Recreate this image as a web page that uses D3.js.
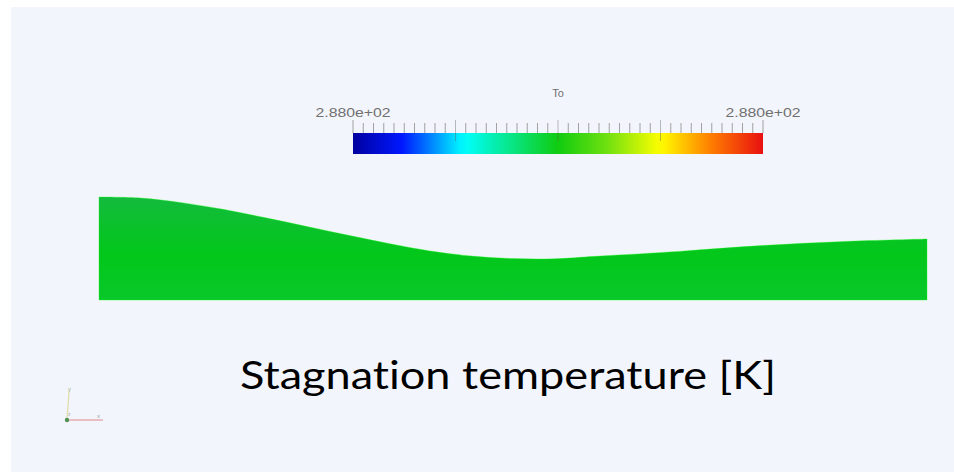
<!DOCTYPE html>
<html>
<head>
<meta charset="utf-8">
<script src="https://cdn.jsdelivr.net/npm/d3@7/dist/d3.min.js"></script>
<style>
  html, body { margin: 0; padding: 0; background: #ffffff; }
  svg { display: block; }
</style>
</head>
<body>
<svg id="chart" width="954" height="472"></svg>
<script>
// Stagnation temperature field over the nozzle section (uniform: 288 K)
const fieldName = "To";
const rangeMin = 288.0;
const rangeMax = 288.0;
const fieldValue = 288.0;
const tickLabels = ["2.880e+02", "2.880e+02"];
const title = "Stagnation temperature [K]";

// Nozzle upper wall: axial station (0..1) and wall height (fraction of inlet height)
const stationX = [0, 0.05, 0.10, 0.15, 0.20, 0.25, 0.30, 0.35, 0.40, 0.45, 0.50, 0.55, 0.60, 0.70, 0.80, 0.90, 1.0];
const wallHeight = [1.0, 0.99, 0.945, 0.88, 0.80, 0.715, 0.63, 0.548, 0.476, 0.426, 0.402, 0.400, 0.424, 0.472, 0.528, 0.568, 0.592];

// Rainbow colour map stops (position, colour)
const cmapPos = [0, 0.12, 0.27, 0.5, 0.62, 0.75, 0.87, 1];
const cmapCol = ["#0000a0", "#0018ff", "#00ffff", "#10cc10", "#70e010", "#ffff00", "#ff8000", "#e81010"];

const svg = d3.select("#chart");

// panel background
svg.append("rect").attr("x", 11).attr("y", 7).attr("width", 943).attr("height", 465).attr("fill", "#f3f5fc");

const cmap = d3.scaleLinear().domain(cmapPos).range(cmapCol).interpolate(d3.interpolateRgb);

// ---- colour bar ----
const barX0 = 353, barX1 = 763, barY = 133, barH = 21;
const barScale = d3.scaleLinear().domain([0, 1]).range([barX0, barX1]);

const defs = svg.append("defs");
const grad = defs.append("linearGradient").attr("id", "cbar").attr("x1", "0%").attr("x2", "100%");
d3.range(0, 1.0001, 0.02).forEach(t => {
  grad.append("stop").attr("offset", (t * 100) + "%").attr("stop-color", cmap(t));
});
svg.append("rect").attr("x", barX0).attr("y", barY).attr("width", barX1 - barX0).attr("height", barH)
  .attr("fill", "url(#cbar)");

// ticks above the colour bar: 40 minor intervals, major every 10
const tickIdx = d3.range(0, 41);
svg.append("g").selectAll("line").data(tickIdx).join("line")
  .attr("x1", i => barScale(i / 40)).attr("x2", i => barScale(i / 40))
  .attr("y1", i => (i % 10 === 0 ? 120 : 123)).attr("y2", i => (i % 10 === 0 && i > 0 && i < 40 ? barY + 8 : barY))
  .attr("stroke", i => (i % 10 === 0 && i > 0 && i < 40 ? "rgba(90,90,90,0.4)" : "#a0a0a0"))
  .attr("stroke-width", 1);

svg.append("text").attr("x", (barX0 + barX1) / 2).attr("y", 97).attr("text-anchor", "middle")
  .attr("font-family", "Liberation Sans, Arial, sans-serif").attr("font-size", 11).attr("fill", "#707070")
  .text(fieldName);
svg.append("g").selectAll("text").data(tickLabels).join("text")
  .attr("x", (d, i) => barScale(i)).attr("y", 117).attr("text-anchor", "middle")
  .attr("font-family", "Liberation Sans Narrow, Liberation Sans, Arial, sans-serif").attr("font-size", 12).attr("fill", "#707070")
  .attr("textLength", 75).attr("lengthAdjust", "spacingAndGlyphs")
  .text(d => d);

// ---- nozzle domain ----
const x = d3.scaleLinear().domain([0, 1]).range([99, 927]);
const y = d3.scaleLinear().domain([0, 1]).range([300, 197]);
const profile = stationX.map((s, i) => ({ s, h: wallHeight[i] }));

const t = (fieldValue - rangeMin) / ((rangeMax - rangeMin) || 1) + ((rangeMax - rangeMin) ? 0 : 0.5);
const base = d3.color(cmap(t));

const fillGrad = defs.append("linearGradient").attr("id", "field").attr("x1", "0%").attr("x2", "0%").attr("y1", "0%").attr("y2", "100%");
fillGrad.append("stop").attr("offset", "0%").attr("stop-color", "#13bb3d");
fillGrad.append("stop").attr("offset", "55%").attr("stop-color", "#03c71a");
fillGrad.append("stop").attr("offset", "100%").attr("stop-color", "#08c82a");

const area = d3.area().x(d => x(d.s)).y0(y(0)).y1(d => y(d.h)).curve(d3.curveCatmullRom.alpha(0.5));
svg.append("path").datum(profile).attr("d", area).attr("fill", "url(#field)")
  .attr("stroke", base.brighter(0.6)).attr("stroke-opacity", 0.35).attr("stroke-width", 1);

// ---- caption ----
svg.append("text").attr("x", 240).attr("y", 389)
  .attr("font-family", "Lato, 'Open Sans', sans-serif").attr("font-size", 38).attr("fill", "#000")
  .style("font-variant-ligatures", "none")
  .attr("textLength", 536).attr("lengthAdjust", "spacingAndGlyphs")
  .text(title);

// ---- orientation axes ----
const ax = svg.append("g").attr("opacity", 0.8);
ax.append("line").attr("x1", 67).attr("y1", 420).attr("x2", 103).attr("y2", 420).attr("stroke", "#e07070").attr("stroke-width", 1.2);
ax.append("line").attr("x1", 67).attr("y1", 420).attr("x2", 69).attr("y2", 392).attr("stroke", "#d8d890").attr("stroke-width", 1.2);
ax.append("circle").attr("cx", 67).attr("cy", 420).attr("r", 2.2).attr("fill", "#2a7a2a");
ax.append("text").attr("x", 97).attr("y", 418).attr("font-family", "Liberation Sans, sans-serif").attr("font-size", 6).attr("fill", "#888").text("x");
ax.append("text").attr("x", 68).attr("y", 391).attr("font-family", "Liberation Sans, sans-serif").attr("font-size", 6).attr("fill", "#8a9a50").text("y");
ax.append("text").attr("x", 68).attr("y", 416).attr("font-family", "Liberation Sans, sans-serif").attr("font-size", 5).attr("fill", "#999").text("z");
</script>
</body>
</html>
